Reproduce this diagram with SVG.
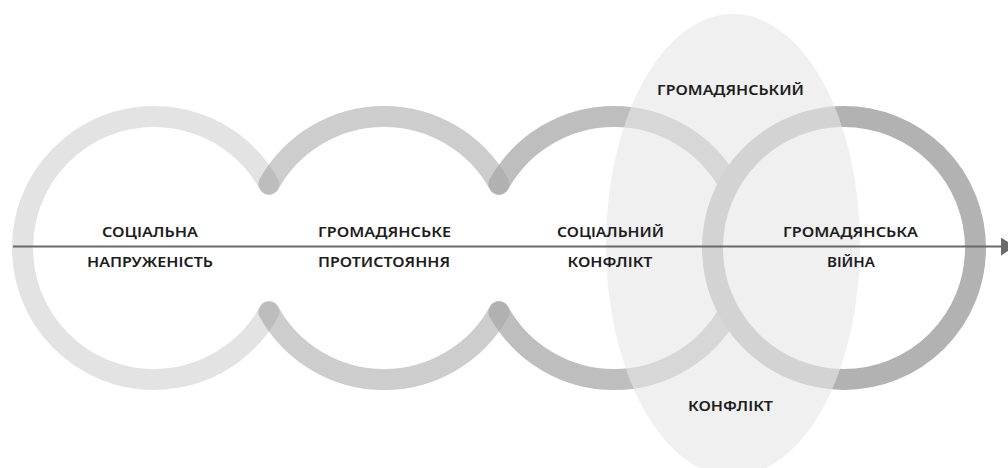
<svg xmlns="http://www.w3.org/2000/svg" width="1008" height="468" viewBox="0 0 1008 468">
  <style>
    .ring { fill: none; stroke-width: 21; stroke-linecap: round; }
    .r1 { stroke: #e3e3e3; }
    .r2 { stroke: #cdcdcd; }
    .r3 { stroke: #bebebe; }
    .r4 { stroke: #b2b2b2; }
    .o12 { stroke: #bdbdbd; }
    .o23 { stroke: #b1b1b1; }
    .mk { fill: none; stroke: #ffffff; stroke-width: 21; stroke-linecap: round; }
    .lbl { font-family: "Noto Sans", "Open Sans", "DejaVu Sans", sans-serif; font-weight: 600; font-size: 15px; fill: #1d1d1d; text-anchor: middle; }
    .axis { stroke: #696969; stroke-width: 2; fill: none; }
  </style>
  <defs>
    <path id="p1" d="M 269 184.2 A 131.5 131.5 0 1 0 269 311.8"/>
    <path id="p2t" d="M 269 184.2 A 131.5 131.5 0 0 1 499 184.2"/>
    <path id="p2b" d="M 269 311.8 A 131.5 131.5 0 0 0 499 311.8"/>
    <path id="p3t" d="M 499 184.2 A 131.5 131.5 0 0 1 729 184.2"/>
    <path id="p3b" d="M 499 311.8 A 131.5 131.5 0 0 0 729 311.8"/>
    <mask id="m2" maskUnits="userSpaceOnUse" x="0" y="0" width="1008" height="468">
      <use href="#p2t" class="mk"/>
      <use href="#p2b" class="mk"/>
    </mask>
    <mask id="m3" maskUnits="userSpaceOnUse" x="0" y="0" width="1008" height="468">
      <use href="#p3t" class="mk"/>
      <use href="#p3b" class="mk"/>
    </mask>
    <marker id="arrow" viewBox="0 0 14 18" refX="0" refY="9" markerWidth="14" markerHeight="18" markerUnits="userSpaceOnUse" orient="auto">
      <path d="M0,0 L14,9 L0,18 z" fill="#696969"/>
    </marker>
  </defs>
  <rect width="1008" height="468" fill="#ffffff"/>

  <g id="rings">
    <use href="#p1" class="ring r1"/>
    <use href="#p2t" class="ring r2"/>
    <use href="#p2b" class="ring r2"/>
    <use href="#p1" class="ring o12" mask="url(#m2)"/>
    <use href="#p3t" class="ring r3"/>
    <use href="#p3b" class="ring r3"/>
    <g mask="url(#m3)">
      <use href="#p2t" class="ring o23"/>
      <use href="#p2b" class="ring o23"/>
    </g>
    <circle class="ring r4" cx="844" cy="248" r="131.5"/>
  </g>

  <g id="civil-conflict">
    <ellipse cx="733" cy="245" rx="127" ry="231" fill="#e6e6e6" fill-opacity="0.62"/>
    <text class="lbl" x="730.5" y="95" textLength="147" lengthAdjust="spacingAndGlyphs">ГРОМАДЯНСЬКИЙ</text>
    <text class="lbl" x="730.5" y="411" textLength="85" lengthAdjust="spacingAndGlyphs">КОНФЛІКТ</text>
  </g>

  <g id="connectors">
    <line class="axis" x1="13" y1="246.5" x2="1001" y2="246.5" marker-end="url(#arrow)"/>
  </g>

  <g id="social-tension">
    <text class="lbl" x="150" y="237" textLength="96" lengthAdjust="spacingAndGlyphs">СОЦІАЛЬНА</text>
    <text class="lbl" x="150" y="267" textLength="126" lengthAdjust="spacingAndGlyphs">НАПРУЖЕНІСТЬ</text>
  </g>

  <g id="civil-confrontation">
    <text class="lbl" x="384.5" y="237" textLength="133" lengthAdjust="spacingAndGlyphs">ГРОМАДЯНСЬКЕ</text>
    <text class="lbl" x="384" y="266.5" textLength="132" lengthAdjust="spacingAndGlyphs">ПРОТИСТОЯННЯ</text>
  </g>

  <g id="social-conflict">
    <text class="lbl" x="610.5" y="237" textLength="107" lengthAdjust="spacingAndGlyphs">СОЦІАЛЬНИЙ</text>
    <text class="lbl" x="610" y="267" textLength="85" lengthAdjust="spacingAndGlyphs">КОНФЛІКТ</text>
  </g>

  <g id="civil-war">
    <text class="lbl" x="850.5" y="237" textLength="135" lengthAdjust="spacingAndGlyphs">ГРОМАДЯНСЬКА</text>
    <text class="lbl" x="851" y="267" textLength="48" lengthAdjust="spacingAndGlyphs">ВІЙНА</text>
  </g>
</svg>
